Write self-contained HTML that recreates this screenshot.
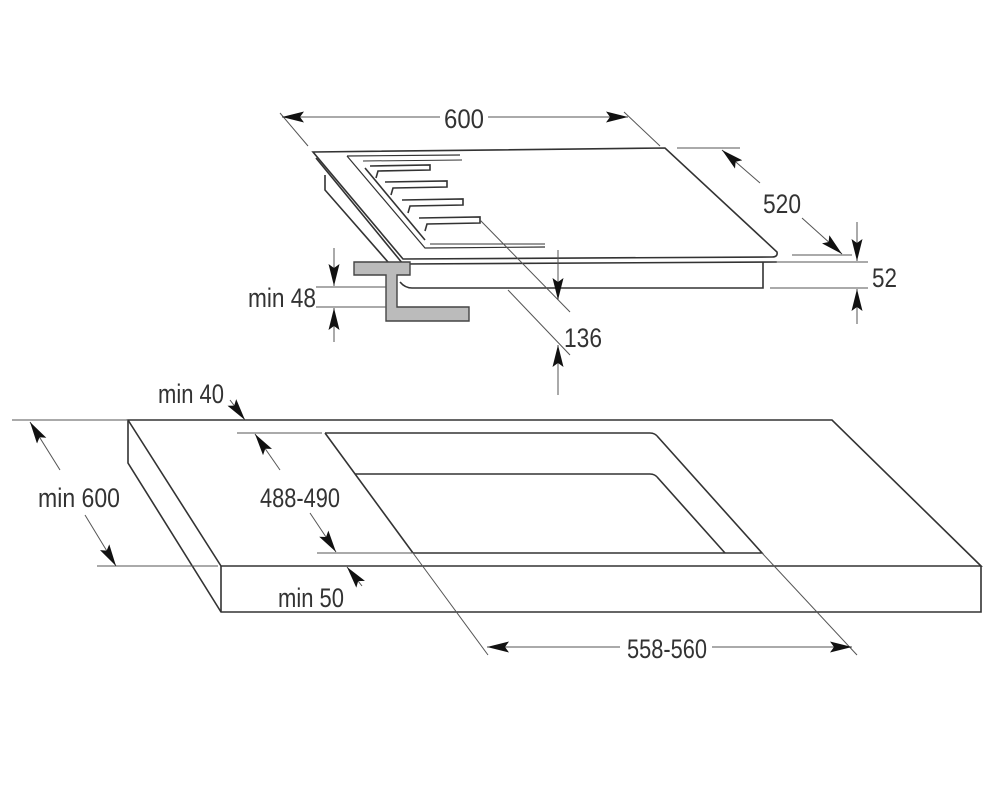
<!DOCTYPE html>
<html><head><meta charset="utf-8"><style>html,body{margin:0;background:#fff}svg{display:block}text{font-family:"Liberation Sans",sans-serif;font-size:27px;fill:#333}</style></head><body>
<svg width="999" height="800" viewBox="0 0 999 800" xmlns="http://www.w3.org/2000/svg">
<defs>
<marker id="a" viewBox="0 0 22 11" refX="22" refY="5.5" markerWidth="22" markerHeight="11" markerUnits="userSpaceOnUse" orient="auto"><path d="M0,0 L22,5.5 L0,11 L4,5.5 Z" fill="#111"/></marker>
</defs>
<g stroke="#333" stroke-width="1.6" fill="none">
<path d="M128,420 L832,420 L981,566 L221,566 Z" fill="#fff"/>
<path d="M128,420 L128,463 L221,612 L981,612 L981,566"/>
<path d="M221,566 L221,612"/>
<path d="M325,433 L650,433 Q655,433 658,437 L762,553 L413,553"/>
<path d="M355,474 L650,474 Q655,474 658,478 L725,553"/>
<path d="M325,433 L413,553"/>
</g>
<g stroke="#555" stroke-width="1" fill="none">
<path d="M413,553 L488,655"/>
<path d="M762,553 L857,655"/>
<path d="M12,420 L128,420"/>
<path d="M97,566 L218,566"/>
<path d="M237,433 L322,433"/>
<path d="M317,553 L413,553"/>
<path d="M60,470 L30,422" marker-end="url(#a)"/>
<path d="M85,515 L116,566" marker-end="url(#a)"/>
<path d="M280,470 L255,434" marker-end="url(#a)"/>
<path d="M310,513 L336,552" marker-end="url(#a)"/>
<path d="M230,400 L245,420" marker-end="url(#a)"/>
<path d="M362,586 L347,567" marker-end="url(#a)"/>
<path d="M620,647 L487,647" marker-end="url(#a)"/>
<path d="M712,647 L852,647" marker-end="url(#a)"/>
</g>
<text x="38" y="507" textLength="82" lengthAdjust="spacingAndGlyphs">min 600</text>
<text x="260" y="507" textLength="80" lengthAdjust="spacingAndGlyphs">488-490</text>
<text x="158" y="403" textLength="66" lengthAdjust="spacingAndGlyphs">min 40</text>
<text x="278" y="607" textLength="66" lengthAdjust="spacingAndGlyphs">min 50</text>
<text x="627" y="658" textLength="80" lengthAdjust="spacingAndGlyphs">558-560</text>

<g stroke="#333" stroke-width="1.6" fill="none">
<path d="M313,152 L665,148 L777,252 Q778,257 772,257 L403,259 Z" fill="#fff"/>
<path d="M316,158 L403,264 L777,262"/>
<path d="M325,175 L325,190 L395,270"/>
<path d="M763,262 L763,288 L412,288 Q405,288 400,282"/>
<path d="M347,156 L460,155" stroke-width="1.2"/>
<path d="M347,156 L425,248 L545,247" stroke-width="1.2"/>
<path d="M363,161 L462,160 M430,244 L545,244" stroke-width="1"/>
<path d="M370,166 L430,165 L430,170 L378,171 L376,178"/>
<path d="M385,182 L447,181 L447,187 L393,188 L391,195"/>
<path d="M402,200 L463,199 L463,205 L410,206 L408,213"/>
<path d="M419,218 L480,217 L480,223 L427,224 L425,231"/>
<path d="M365,168 L425,240"/>
</g>
<path d="M354,262 L410,262 L410,275 L397,275 L397,307 L469,307 L469,321 L386,321 L386,275 L354,275 Z" fill="#bbb" stroke="#444" stroke-width="1.4"/>
<g stroke="#555" stroke-width="1" fill="none">
<path d="M280,113 L308,146"/>
<path d="M624,112 L660,146"/>
<path d="M440,117 L282,117" marker-end="url(#a)"/>
<path d="M488,117 L628,117" marker-end="url(#a)"/>
<path d="M677,148 L740,148"/>
<path d="M792,255 L852,255"/>
<path d="M776,262 L868,262"/>
<path d="M770,288 L868,288"/>
<path d="M760,183 L722,150" marker-end="url(#a)"/>
<path d="M802,218 L842,254" marker-end="url(#a)"/>
<path d="M857,222 L857,261" marker-end="url(#a)"/>
<path d="M857,324 L857,289" marker-end="url(#a)"/>
<path d="M316,287 L386,287"/>
<path d="M316,307 L386,307"/>
<path d="M334,248 L334,286" marker-end="url(#a)"/>
<path d="M334,342 L334,308" marker-end="url(#a)"/>
<path d="M480,220 L570,312"/>
<path d="M508,290 L570,355"/>
<path d="M558,250 L558,300" marker-end="url(#a)"/>
<path d="M558,395 L558,345" marker-end="url(#a)"/>
</g>
<text x="444" y="128" textLength="40" lengthAdjust="spacingAndGlyphs">600</text>
<text x="763" y="213" textLength="38" lengthAdjust="spacingAndGlyphs">520</text>
<text x="872" y="287" textLength="25" lengthAdjust="spacingAndGlyphs">52</text>
<text x="248" y="307" textLength="68" lengthAdjust="spacingAndGlyphs">min 48</text>
<text x="564" y="347" textLength="38" lengthAdjust="spacingAndGlyphs">136</text>
</svg>
</body></html>
